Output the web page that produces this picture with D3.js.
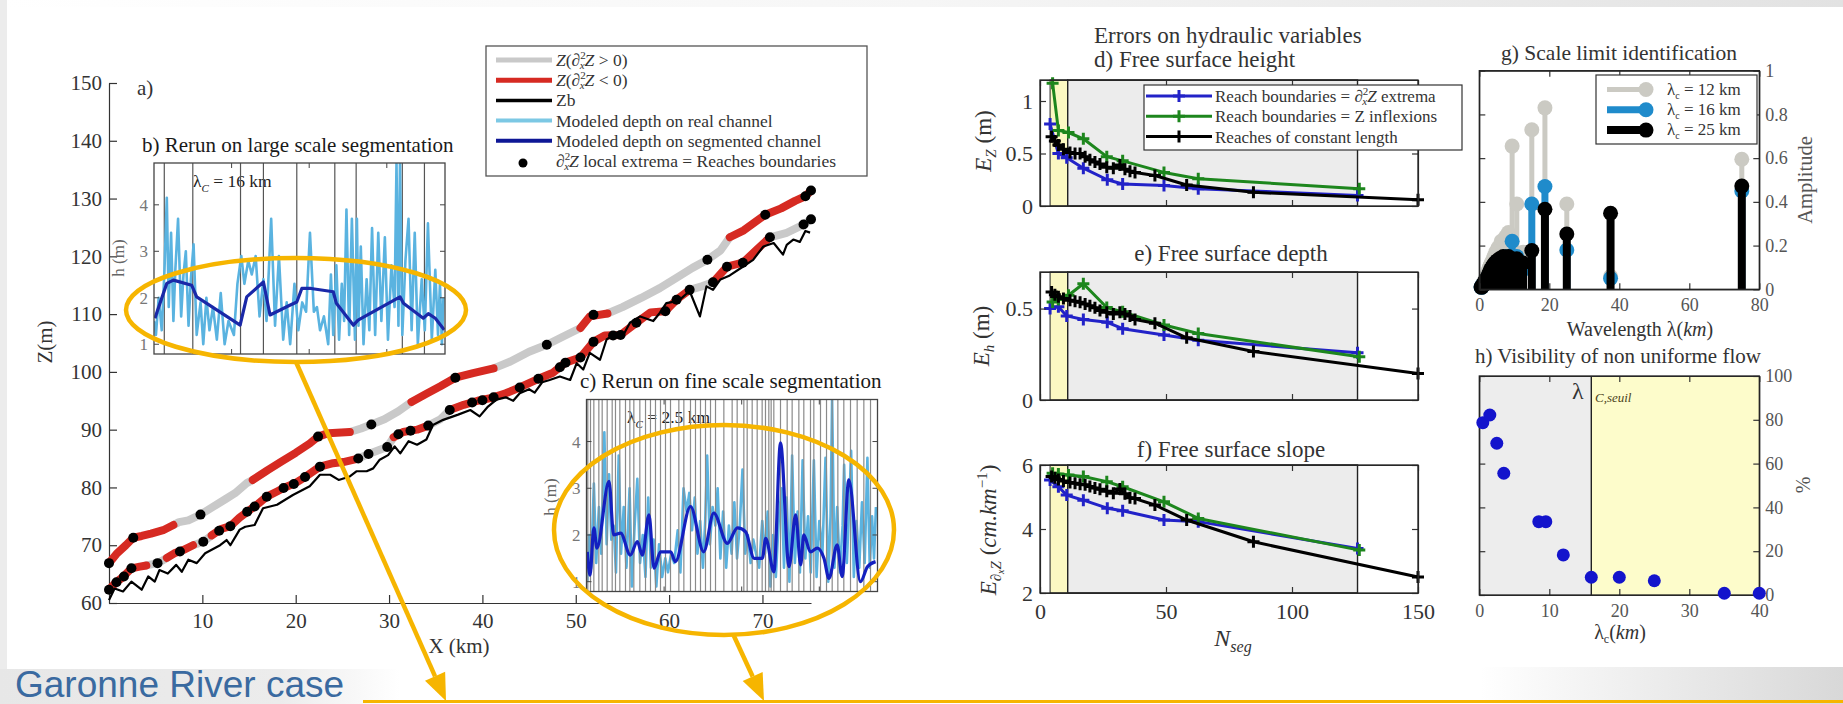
<!DOCTYPE html>
<html><head><meta charset="utf-8">
<script src="https://cdn.jsdelivr.net/npm/d3@7/dist/d3.min.js"></script>
<style>
html,body{margin:0;padding:0;background:#fff;}
svg{display:block;}
text{font-family:"Liberation Serif","Times New Roman",serif;}
</style></head><body>
<svg id="fig" width="1843" height="704"></svg>
<script>
// ---------- a) longitudinal profile of the Garonne reach ----------
const zTicks = [60, 70, 80, 90, 100, 110, 120, 130, 140, 150];
const xTicksA = [10, 20, 30, 40, 50, 60, 70];

// free surface line (upper) and its curvature colouring
const upperX = [0,0.8,1.8,2.6,3.5,4.5,5.8,6.9,7.5,8.5,9.8,11,12.5,13.5,14.8,15.4,17,18.5,20,21.5,22.4,23.5,25.8,27,28.1,29.5,31,32.4,34,35.5,37.1,39,41.2,43,45,46.9,48.5,50.5,51.5,53.4,55,57,59,61,62.5,64.1,65.5,66.5,68,70.3,72,73.5,74.6,75.2];
const upperZ = [66.9,68.5,70,71.3,71.6,72,72.6,73.5,74,74.3,75.3,76.5,78,79,80.8,81.3,83,84.5,86,87.6,88.8,89.4,89.6,90.2,90.9,91.8,93.2,94.8,96.2,97.5,99,99.8,100.6,101.8,103.5,104.7,106,107.6,109.6,110.1,111.2,112.8,114.5,116.5,118,119.4,121,123.3,124.5,127.2,128.3,129.6,130.4,131.4];
const upperConcave = [[0,6.9],[15.2,25.8],[32.4,41.2],[50.8,53.6],[66.3,75.2]];
const upperDotX = [0,2.6,9.8,22.4,28.1,37.1,46.9,51.9,64.1,70.3,74.6,75.2];
const upperDotZ = [66.9,71.3,75.3,88.8,90.9,99,104.7,109.9,119.4,127.2,130.4,131.4];

// modelled water line on the real channel (middle)
const midX = [0,0.7,1.5,2.4,3.3,4,5.2,6.2,7,8,9,10.1,11,12,13,14,15,16,16.9,18,18.7,20,21,22.6,24,25.1,26.7,27.8,29.8,30.5,31.5,33,34.2,35.5,36.5,38,39.5,41,42.5,44,46,47.5,48.9,50.5,51.9,53.1,54.8,56.5,58,59.6,60.8,62.2,63.5,64.7,66.2,67.9,69.3,70.8,72.5,74.4,75.2];
const midZ = [62.3,63.5,64.5,66,66.3,66.5,66.9,67.8,68.6,69.2,70,70.6,71.7,72.8,73.3,74.8,76,77.2,78.4,79.3,79.9,80.8,81.8,83.6,84.2,84.4,85,85.8,87,88.7,89.6,90,90.7,91.8,93.4,94.3,95,95.5,96.3,97.3,98.8,99.8,101.6,102.5,105.2,106.3,106.4,108.5,110.3,110.5,112.5,114.2,114.8,115.5,118.2,118.9,121,123.3,124,125.5,126.4];
const midConcave = [[0,4.2],[6.5,9.2],[10.8,22.3],[23.2,26.3],[27.3,28.6],[30.3,34.8],[36.3,62.3],[64.3,71.5]];
const midDotX = [0,0.8,1.6,2.4,5.2,7.6,10.1,11.8,13,14.8,15.6,16.9,18.7,19.8,21,22.6,26.7,27.8,29.8,31,32.3,34.2,36.5,38.9,40,41.2,44,46,48.3,48.9,50.5,51.9,54,54.8,56.5,59.6,60.8,62.2,64.7,66.2,67.9,70.8,74.4,75.2];
const midDotZ = [62.3,63.6,64.6,66,66.9,68.9,70.6,72.5,73.3,75.8,76.7,78.4,79.9,80.6,81.8,83.6,85,85.8,87,89.2,89.8,90.7,93.4,94.7,95.1,95.6,97.3,98.8,100.8,101.6,102.5,105.2,106.3,106.4,108.5,110.5,112.5,114.2,115.5,118.2,118.9,123.3,125.5,126.4];

// bed elevation Zb
const zbX = [0,0.6,1.5,2.4,3.5,4.2,4.9,5.4,6.3,7.2,7.8,8.5,9.4,10.3,11.9,12.6,13,14,14.6,15.6,16.5,18,19.7,21.5,22.6,23.7,24.6,25.8,26.5,27.6,28.3,29,29.9,30.6,31.2,32.1,33,34,34.7,35.8,37.4,38.7,39.7,40.6,41.5,42.5,43.3,44,45,45.6,46.4,47.2,48.3,49.4,50.1,50.8,51.5,52.6,53.3,54.4,55.1,55.8,56.9,58.3,59,59.7,61,62.2,63.3,64,64.7,65.5,66.5,67.9,69,70.1,71.2,72.2,72.6,73.3,74,74.6,75.1];
const zbZ = [60.5,62.5,62,63.7,62.3,64.6,63.7,65.7,65.1,66.6,65.4,67.5,66.9,68.6,70,70.9,70,72.7,73.2,73.5,76.4,77,78.7,80.2,82.2,82.2,81.3,81.9,82.8,82.8,83.3,84.8,85.6,87.1,85.9,88,87.4,88.3,90.8,91.7,92.6,93.4,92.3,94,95.2,95.6,95,96.3,97,96.4,98.2,98.6,99.2,98.6,101.5,100.4,103.3,102.1,105.6,106.8,106.4,108.5,109.6,108.8,110.2,111.9,112.3,114,109.6,114.8,114.2,116,116.7,118.2,119.4,121.7,122.3,120.3,122,122.9,122.5,124.4,124.1];

// ---------- insets b) and c): depth along the reach ----------
const insetXDomain = [0, 75];
const insetHDomain = [0.79, 4.9];
const hTicks = [1, 2, 3, 4];
const insetXTicks = [20, 40, 60];

const bRealX = [0,0.5,1.2,2,2.7,3.3,3.8,4.4,5.0,5.5,6.2,7.0,7.6,8.2,8.9,9.5,10.2,11.0,12.0,12.7,13.5,14.3,15.2,16.2,17.2,18.2,19.2,20.6,21.5,22.5,23.3,24.3,25.2,26.2,27.2,28.2,29.0,30.2,31.2,32.2,33.3,34.2,35.1,36.2,37.2,38.2,39.2,40.2,41.2,42.0,42.8,43.8,44.9,45.6,46.2,47.0,47.7,48.4,49.0,49.6,50.3,51.0,51.8,52.3,52.7,53.3,54.0,54.8,55.5,56.2,57.0,57.8,58.6,59.5,60.3,61.2,62.0,62.5,63.0,63.4,64.0,64.8,65.6,66.4,67.2,68.0,69.0,69.8,70.6,71.6,72.5,73.2,73.7,74.2,74.6];
const bRealH = [1.5,1.2,2.0,1.3,2.6,4.15,1.8,3.4,1.5,2.6,3.7,1.6,2.5,3.0,1.4,2.4,3.15,1.2,1.9,1.0,2.0,1.3,1.8,1.1,2.1,1.0,1.5,1.2,2.3,2.9,2.3,2.8,2.5,2.9,1.6,2.4,1.5,3.7,1.4,2.9,1.1,1.9,1.0,2.3,1.3,1.9,1.7,3.4,1.7,1.8,1.3,1.6,1.0,2.5,1.2,2.7,1.1,2.3,1.5,3.9,1.2,3.7,1.1,3.7,1.4,3.1,1.0,2.4,1.3,3.5,1.2,3.4,1.5,3.3,1.1,2.7,1.8,4.9,1.4,4.9,1.2,2.8,3.7,1.3,3.4,1.0,2.4,1.3,3.6,1.1,2.6,1.2,2.3,1.0,2.0];
const bSegX = [0.25,0.8,3.3,5,9.7,11,22.2,23.9,28.2,29.9,35,36.8,38.1,40.5,46.2,47,51.4,52.6,63.4,64.3,69.4,70.7,72.5,74.8];
const bSegH = [1.56,1.7,2.31,2.38,2.27,2.02,1.41,2.02,2.34,1.63,1.84,1.91,2.2,2.2,2.13,1.88,1.41,1.52,2.02,1.88,1.56,1.66,1.56,1.31];
const bBounds = [2.65,10,22.3,28.2,36.8,46.6,52.1,64,69.7];

const cRealX = [0.2,0.7,1.2,1.9,2.5,3.2,3.8,4.6,5.2,5.8,6.4,7.0,7.6,8.3,8.9,9.6,10.3,11.1,11.7,12.4,13.1,13.8,14.5,15.2,15.9,16.6,17.3,18.0,18.7,19.5,20.3,21.0,21.8,22.6,23.5,24.2,25.0,25.8,26.5,27.2,27.9,28.6,29.3,30.0,30.6,31.1,31.8,32.5,33.2,33.8,34.5,35.2,36.0,36.7,37.4,38.1,38.8,39.5,40.2,40.9,41.6,42.3,43.0,43.7,44.5,45.3,46.0,46.7,47.4,48.1,48.8,49.6,50.3,50.9,51.6,52.3,53.0,53.7,54.4,55.0,55.7,56.4,57.1,57.8,58.6,59.3,60.0,60.8,61.6,62.3,62.9,63.3,63.9,64.6,65.3,66.0,66.4,67.1,67.7,68.2,68.9,69.6,70.3,71.0,71.7,72.4,73.0,73.6,74.1,74.6];
const cRealH = [1.0,2.0,1.3,3.1,1.4,2.6,1.6,4.2,1.8,3.3,1.9,2.2,1.2,3.7,1.6,2.6,1.3,3.0,0.9,2.2,3.2,1.4,2.0,1.1,2.8,1.3,1.9,0.9,1.8,1.1,1.5,1.2,1.6,1.4,2.1,1.2,3.0,2.5,2.9,2.1,2.8,1.6,2.3,1.3,2.3,3.7,1.8,2.6,2.2,3.0,1.5,2.5,1.3,2.2,1.6,2.7,1.5,2.2,3.4,1.6,2.0,1.4,1.9,1.6,1.3,2.3,1.6,2.5,0.9,2.0,1.1,2.4,3.0,1.3,2.8,1.0,3.7,1.4,2.5,1.2,3.6,1.5,2.4,1.2,3.6,1.1,2.3,1.6,3.65,1.0,2.4,4.9,1.3,2.6,1.2,2.2,3.5,1.4,2.6,3.8,1.1,2.3,1.3,2.7,1.4,3.65,1.3,2.4,1.5,2.6];
const cSegX = [0.2,0.9,1.9,2.7,5.8,7.0,8.8,11.3,13.1,14.4,16.1,17.4,19.1,21.7,22.9,26.8,30.2,32.8,36.3,38.9,41.0,43.2,45.3,46.2,48.3,50.0,52.2,53.9,55.2,56.0,57.7,59.5,61.2,62.5,64.6,65.9,67.6,70.6,72.4,74.5];
const cSegH = [1.64,1.14,2.15,1.72,3.15,2.0,2.04,1.57,1.86,1.57,2.43,1.29,1.64,1.64,1.43,2.61,1.64,2.47,1.82,2.15,2.07,1.5,1.5,1.93,1.21,3.97,1.32,2.43,1.36,2.0,1.64,1.72,1.5,1.07,1.79,1.11,3.18,1.0,1.32,1.43];
const cBounds = [0.34,1.03,1.89,3.18,4.04,5.33,6.62,7.47,8.59,10.05,11.17,12.2,13.75,15.21,16.49,17.78,19.07,20.36,21.65,23.8,25.09,26.8,28.09,29.38,30.67,31.96,33.25,35.4,37.54,38.83,40.55,41.41,42.7,43.99,45.27,46.13,46.99,47.59,48.28,50.0,51.72,53.0,54.73,56.01,57.73,58.59,60.31,61.86,63.32,64.78,66.32,68.04,69.76,71.48,73.2];

// ---------- d) e) f): errors versus number of reaches ----------
const nTicks = [0, 50, 100, 150];
const yellowBand = [4, 11];
const grayBand = [11, 126];
const blueN = [4,7.3,10.6,17.2,26.7,32.8,49.2,62.8,126];
const blueEz = [0.78,0.50,0.46,0.36,0.25,0.21,0.195,0.165,0.10];
const blueEh = [0.50,0.51,0.46,0.44,0.425,0.39,0.355,0.327,0.258];
const blueEs = [5.53,5.32,5.06,4.90,4.65,4.57,4.28,4.23,3.39];
const greenN = [5,7.3,11.3,17.2,26.5,32.8,49.2,62.8,126.7];
const greenEz = [1.17,0.72,0.70,0.64,0.47,0.43,0.32,0.26,0.164];
const greenEh = [0.536,0.55,0.573,0.636,0.506,0.482,0.41,0.364,0.236];
const greenEs = [5.74,5.72,5.69,5.64,5.48,5.32,4.85,4.33,3.34];
const blackN = [4.6,5.9,7.3,9.3,11.9,13.9,15.9,17.9,19.8,21.8,23.8,26.5,29.1,31.7,33.7,35.7,37.7,45.6,58.2,84.7,150];
const blackEz = [0.66,0.62,0.58,0.54,0.51,0.50,0.50,0.47,0.44,0.42,0.40,0.37,0.36,0.39,0.35,0.33,0.32,0.29,0.20,0.13,0.06];
const blackEh = [0.59,0.575,0.565,0.555,0.545,0.54,0.535,0.525,0.515,0.505,0.49,0.48,0.47,0.48,0.47,0.46,0.44,0.42,0.34,0.265,0.145];
const blackEs = [5.64,5.6,5.55,5.5,5.45,5.43,5.4,5.38,5.33,5.28,5.24,5.18,5.12,5.25,5.1,4.98,4.95,4.75,4.28,3.6,2.5];

// ---------- g) spectrum ----------
const wavelength = [75,37.5,25,18.75,15,12.5,10.71,9.38,8.33,7.5,6.82,6.25,5.77,5.36,5.0,4.69,4.41,4.17,3.95,3.75,3.57,3.41,3.26,3.13,3.0,2.88,2.78,2.68,2.59,2.5,2.34,2.21,2.08,1.97,1.88,1.67,1.5,1.36,1.25,1.07,0.94,0.75,0.5];
const amp12 = [0.595,0.06,0.39,0.83,0.73,0.17,0.39,0.655,0.26,0.24,0.2,0.22,0.18,0.19,0.15,0.17,0.14,0.15,0.12,0.13,0.11,0.12,0.1,0.11,0.09,0.1,0.08,0.09,0.07,0.08,0.07,0.06,0.06,0.05,0.05,0.04,0.04,0.03,0.03,0.02,0.02,0.01,0.01];
const amp16 = [0.45,0.05,0.18,0.47,0.39,0.09,0.15,0.22,0.14,0.15,0.13,0.14,0.12,0.13,0.11,0.12,0.1,0.11,0.09,0.1,0.08,0.09,0.07,0.08,0.07,0.07,0.06,0.06,0.05,0.06,0.05,0.05,0.04,0.04,0.04,0.03,0.03,0.03,0.02,0.02,0.02,0.01,0.01];
const amp25 = [0.472,0.348,0.253,0.366,0.177,0.12,0.14,0.13,0.15,0.14,0.15,0.13,0.14,0.12,0.13,0.11,0.12,0.1,0.11,0.09,0.1,0.08,0.09,0.07,0.08,0.07,0.06,0.07,0.05,0.06,0.05,0.04,0.05,0.04,0.03,0.04,0.03,0.03,0.02,0.02,0.02,0.01,0.01];
const spectrumLabels = ["12", "16", "25"];
const waveTicks = [0, 20, 40, 60, 80];
const ampTicks = [0, 0.2, 0.4, 0.6, 0.8, 1];

// ---------- h) visibility ----------
const lambdaC = [0.5,1.5,2.5,3.5,8.5,9.5,12,16,20,25,35,40];
const visiblePct = [78.7,82.2,69.3,55.6,33.5,33.5,18.3,8.1,8.1,6.5,0.8,0.8];
const lambdaSeuil = 16;
const lamTicks = [0, 10, 20, 30, 40];
const pctTicks = [0, 20, 40, 60, 80, 100];

const SERIF = '"Liberation Serif","Times New Roman",serif';
const svg = d3.select("#fig");
const defs = svg.append("defs");

function hGrad(id, stops) {
  const lg = defs.append("linearGradient").attr("id", id).attr("x1", 0).attr("x2", 1).attr("y1", 0).attr("y2", 0);
  stops.forEach(s => lg.append("stop").attr("offset", s[0]).attr("stop-color", s[1]));
}
hGrad("gBL", [[0, "#e7e7e7"], [0.7, "#ececec"], [1, "#ffffff"]]);
hGrad("gBR", [[0, "#ffffff"], [1, "#d8d8d8"]]);
hGrad("gTop", [[0, "#ffffff"], [0.5, "#f6f6f6"], [1, "#e2e2e2"]]);

// slide frame
svg.append("rect").attr("width", 1843).attr("height", 704).attr("fill", "#fff");
svg.append("rect").attr("width", 1843).attr("height", 7).attr("fill", "url(#gTop)");
svg.append("rect").attr("width", 7).attr("height", 704).attr("fill", "#ececec");
svg.append("rect").attr("x", 0).attr("y", 669).attr("width", 400).attr("height", 35).attr("fill", "url(#gBL)");
svg.append("rect").attr("x", 1480).attr("y", 667).attr("width", 363).attr("height", 37).attr("fill", "url(#gBR)");

function rich(sel, runs) {
  runs.forEach(r => {
    const s = r[0], o = r[1] || {};
    const ts = sel.append("tspan").text(s);
    if (o.i) ts.attr("font-style", "italic");
    if (o.fs) ts.attr("font-size", o.fs);
    if (o.dx != null) ts.attr("dx", o.dx);
    if (o.dy != null) ts.attr("dy", o.dy);
  });
  return sel;
}
function styleAxis(a, fs, col) {
  a.attr("font-family", null).attr("font-size", null);
  a.selectAll("text").attr("font-size", fs).attr("fill", col).style("font-family", SERIF);
  a.selectAll("line,path").attr("stroke", "#333").attr("stroke-width", 1.2);
}
const zip = (a, b) => a.map((v, i) => [v, b[i]]);

// ================= panel a =================
const aX = d3.scaleLinear().domain([0, 75.2]).range([109, 811]);
const aY = d3.scaleLinear().domain([60, 150]).range([603, 83]);
const gA = svg.append("g");
styleAxis(gA.append("g").attr("transform", "translate(109,0)")
  .call(d3.axisLeft(aY).tickValues(zTicks).tickSize(-8).tickSizeOuter(0).tickPadding(7)), 21, "#333");
styleAxis(gA.append("g").attr("transform", "translate(0,603)")
  .call(d3.axisBottom(aX).tickValues(xTicksA).tickSize(-8).tickSizeOuter(0).tickPadding(10)), 21, "#333");
gA.append("text").attr("transform", "translate(52,342) rotate(-90)").attr("text-anchor", "middle")
  .attr("font-size", 21).attr("fill", "#333").text("Z(m)");
gA.append("text").attr("x", 459).attr("y", 653).attr("text-anchor", "middle")
  .attr("font-size", 21).attr("fill", "#333").text("X (km)");
gA.append("text").attr("x", 137).attr("y", 95).attr("font-size", 21).attr("fill", "#333").text("a)");

const aLine = d3.line().x(d => aX(d[0])).y(d => aY(d[1]));
function colourRuns(xs, zs, ranges) {
  const runs = [];
  for (let i = 0; i < xs.length - 1; i++) {
    const mid = (xs[i] + xs[i + 1]) / 2;
    const red = ranges.some(r => mid >= r[0] && mid <= r[1]);
    if (!runs.length || runs[runs.length - 1].red !== red) runs.push({ red, pts: [[xs[i], zs[i]]] });
    runs[runs.length - 1].pts.push([xs[i + 1], zs[i + 1]]);
  }
  return runs;
}
const RED = "#d62a22", LGRAY = "#c9c9c9";
[[upperX, upperZ, upperConcave], [midX, midZ, midConcave]].forEach(([xs, zs, rg]) => {
  const runs = colourRuns(xs, zs, rg);
  runs.filter(r => !r.red).forEach(r => gA.append("path").attr("d", aLine(r.pts)).attr("fill", "none")
    .attr("stroke", LGRAY).attr("stroke-width", 8).attr("stroke-linecap", "round").attr("stroke-linejoin", "round"));
  runs.filter(r => r.red).forEach(r => gA.append("path").attr("d", aLine(r.pts)).attr("fill", "none")
    .attr("stroke", RED).attr("stroke-width", 8).attr("stroke-linecap", "round").attr("stroke-linejoin", "round"));
});
gA.append("path").attr("d", aLine(zip(zbX, zbZ))).attr("fill", "none").attr("stroke", "#000")
  .attr("stroke-width", 2.2).attr("stroke-linejoin", "round");
[[upperDotX, upperDotZ], [midDotX, midDotZ]].forEach(([xs, zs]) => {
  gA.selectAll(null).data(zip(xs, zs)).enter().append("circle")
    .attr("cx", d => aX(d[0])).attr("cy", d => aY(d[1])).attr("r", 5).attr("fill", "#000");
});

// legend a
const legA = svg.append("g");
legA.append("rect").attr("x", 486).attr("y", 46).attr("width", 381).attr("height", 130)
  .attr("fill", "#fff").attr("stroke", "#555").attr("stroke-width", 1.3);
const legRowsA = [
  { c: LGRAY, w: 5, runs: [["Z", { i: 1 }], ["(∂"], ["2", { fs: 11, dy: -7 }], ["x", { fs: 11, i: 1, dx: -6, dy: 10 }], ["Z", { i: 1, dy: -3 }], [" > 0)"]] },
  { c: RED, w: 5, runs: [["Z", { i: 1 }], ["(∂"], ["2", { fs: 11, dy: -7 }], ["x", { fs: 11, i: 1, dx: -6, dy: 10 }], ["Z", { i: 1, dy: -3 }], [" < 0)"]] },
  { c: "#000", w: 3.5, runs: [["Zb"]] },
  { c: "#7cc8e4", w: 4, runs: [["Modeled depth on real channel"]] },
  { c: "#0e1796", w: 4, runs: [["Modeled depth on segmented channel"]] },
  { dot: true, runs: [["∂"], ["2", { fs: 11, dy: -7 }], ["x", { fs: 11, i: 1, dx: -6, dy: 10 }], ["Z", { i: 1, dy: -3 }], [" local extrema = Reaches boundaries"]] }
];
legRowsA.forEach((r, i) => {
  const y = 60 + i * 20.2;
  if (r.dot) legA.append("circle").attr("cx", 523).attr("cy", y + 2).attr("r", 4.5).attr("fill", "#000");
  else legA.append("line").attr("x1", 496).attr("x2", 552).attr("y1", y).attr("y2", y)
    .attr("stroke", r.c).attr("stroke-width", r.w);
  rich(legA.append("text").attr("x", 556).attr("y", y + 6).attr("font-size", 17.5).attr("fill", "#333"), r.runs);
});

// ================= insets b and c =================
let clipN = 0;
function drawInset(o) {
  const x = d3.scaleLinear().domain(insetXDomain).range([o.left, o.left + o.width]);
  const y = d3.scaleLinear().domain(insetHDomain).range([o.top + o.height, o.top]);
  const g = svg.append("g");
  const id = "clipInset" + (clipN++);
  defs.append("clipPath").attr("id", id).append("rect")
    .attr("x", o.left).attr("y", o.top).attr("width", o.width).attr("height", o.height);
  g.append("rect").attr("x", o.left).attr("y", o.top).attr("width", o.width).attr("height", o.height).attr("fill", "#fff");
  g.append("text").attr("x", o.titleX).attr("y", o.titleY).attr("font-size", 21).attr("fill", "#1a1a1a").text(o.title);
  rich(g.append("text").attr("x", o.lamX).attr("y", o.lamY).attr("font-size", 17.5).attr("fill", "#222"),
    [["λ"], ["C", { i: 1, fs: 11, dy: 5 }], [" =  " + o.lam + " km", { dy: -5 }]]);
  const body = g.append("g").attr("clip-path", "url(#" + id + ")");
  const drawBounds = () => body.selectAll(null).data(o.bounds).enter().append("line")
    .attr("x1", d => x(d)).attr("x2", d => x(d)).attr("y1", o.top).attr("y2", o.top + o.height)
    .attr("stroke", o.boundColor).attr("stroke-width", 1.2);
  const ln = d3.line().x(d => x(d[0])).y(d => y(d[1]));
  if (!o.boundsOnTop) drawBounds();
  body.append("path").attr("d", ln(zip(o.realX, o.realH))).attr("fill", "none")
    .attr("stroke", "#5ab3e0").attr("stroke-width", 2.6).attr("stroke-linejoin", "round");
  if (o.boundsOnTop) drawBounds();
  body.append("path").attr("d", ln.curve(o.curve)(zip(o.segX, o.segH))).attr("fill", "none")
    .attr("stroke", o.segColor).attr("stroke-width", 3.2).attr("stroke-linejoin", "round");
  // ticks on all sides, pointing inward
  const tk = g.append("g").attr("stroke", "#444").attr("stroke-width", 1);
  hTicks.forEach(v => {
    tk.append("line").attr("x1", o.left).attr("x2", o.left + 5).attr("y1", y(v)).attr("y2", y(v));
    tk.append("line").attr("x1", o.left + o.width - 5).attr("x2", o.left + o.width).attr("y1", y(v)).attr("y2", y(v));
  });
  insetXTicks.forEach(v => {
    tk.append("line").attr("x1", x(v)).attr("x2", x(v)).attr("y1", o.top).attr("y2", o.top + 5);
    tk.append("line").attr("x1", x(v)).attr("x2", x(v)).attr("y1", o.top + o.height - 5).attr("y2", o.top + o.height);
  });
  g.append("rect").attr("x", o.left).attr("y", o.top).attr("width", o.width).attr("height", o.height)
    .attr("fill", "none").attr("stroke", "#444").attr("stroke-width", 1.3);
  g.selectAll(null).data(hTicks).enter().append("text")
    .attr("x", o.left - 6).attr("y", d => y(d) + 6).attr("text-anchor", "end")
    .attr("font-size", 17).attr("fill", "#777").text(d => d);
  g.append("text").attr("transform", `translate(${o.ylabX},${o.ylabY}) rotate(-90)`).attr("text-anchor", "middle")
    .attr("font-size", 17).attr("fill", "#666").text("h (m)");
}
drawInset({ left: 154, top: 163, width: 291, height: 191, title: "b) Rerun on large scale segmentation",
  titleX: 142, titleY: 152, lam: "16", lamX: 193, lamY: 187, realX: bRealX, realH: bRealH,
  segX: bSegX, segH: bSegH, bounds: bBounds, boundColor: "#555", boundsOnTop: false,
  curve: d3.curveLinear, segColor: "#1a28a8", ylabX: 124, ylabY: 258 });
drawInset({ left: 586.5, top: 399.5, width: 291, height: 192, title: "c) Rerun on fine scale segmentation",
  titleX: 580, titleY: 388, lam: "2.5", lamX: 627, lamY: 423, realX: cRealX, realH: cRealH,
  segX: cSegX, segH: cSegH, bounds: cBounds, boundColor: "#8a8a8a", boundsOnTop: true,
  curve: d3.curveMonotoneX, segColor: "#1420c0", ylabX: 556, ylabY: 497 });

// ================= panels d, e, f =================
const nX = d3.scaleLinear().domain([0, 150]).range([1040, 1418]);
const plusPath = "M-6,0H6M0,-6V6";
const errSeries = [
  { c: "#2222c8", n: blueN, v: [blueEz, blueEh, blueEs] },
  { c: "#1d861d", n: greenN, v: [greenEz, greenEh, greenEs] },
  { c: "#000000", n: blackN, v: [blackEz, blackEh, blackEs] }
];
function errPanel(p) {
  const y = d3.scaleLinear().domain(p.yDom).range([p.bottom, p.top]);
  const g = svg.append("g");
  g.append("rect").attr("x", nX(yellowBand[0])).attr("y", p.top).attr("width", nX(yellowBand[1]) - nX(yellowBand[0]))
    .attr("height", p.bottom - p.top).attr("fill", "#fbf8c2").attr("stroke", "#222").attr("stroke-width", 1);
  g.append("rect").attr("x", nX(grayBand[0])).attr("y", p.top).attr("width", nX(grayBand[1]) - nX(grayBand[0]))
    .attr("height", p.bottom - p.top).attr("fill", "#ececec").attr("stroke", "#222").attr("stroke-width", 1.4);
  const ln = d3.line().x(d => nX(d[0])).y(d => y(d[1]));
  errSeries.forEach(s => {
    const pts = zip(s.n, s.v[p.idx]);
    g.append("path").attr("d", ln(pts)).attr("fill", "none").attr("stroke", s.c).attr("stroke-width", 3)
      .attr("stroke-linejoin", "round");
    g.selectAll(null).data(pts).enter().append("path")
      .attr("transform", d => `translate(${nX(d[0])},${y(d[1])})`).attr("d", plusPath)
      .attr("stroke", s.c).attr("stroke-width", 3).attr("fill", "none");
  });
  const left = g.append("g").attr("transform", "translate(1040,0)")
    .call(d3.axisLeft(y).tickValues(p.ticks).tickSize(-6).tickSizeOuter(0).tickPadding(7).tickFormat(d3.format("~g")));
  styleAxis(left, 22, "#333");
  g.append("g").attr("transform", "translate(1418,0)")
    .call(d3.axisRight(y).tickValues(p.ticks).tickSize(-6).tickSizeOuter(0).tickFormat(""))
    .call(a => styleAxis(a, 22, "#333"));
  g.append("g").attr("transform", `translate(0,${p.top})`)
    .call(d3.axisTop(nX).tickValues(nTicks).tickSize(-6).tickSizeOuter(0).tickFormat(""))
    .call(a => styleAxis(a, 22, "#333"));
  const bot = g.append("g").attr("transform", `translate(0,${p.bottom})`)
    .call(d3.axisBottom(nX).tickValues(nTicks).tickSize(-6).tickSizeOuter(0).tickPadding(10)
      .tickFormat(p.xLabels ? d3.format("d") : ""));
  styleAxis(bot, 22, "#333");
  g.append("rect").attr("x", 1040).attr("y", p.top).attr("width", 378).attr("height", p.bottom - p.top)
    .attr("fill", "none").attr("stroke", "#222").attr("stroke-width", 1.3);
  return g;
}
errPanel({ idx: 0, top: 80, bottom: 206, yDom: [0, 1.2], ticks: [0, 0.5, 1] });
errPanel({ idx: 1, top: 272, bottom: 400, yDom: [0, 0.7], ticks: [0, 0.5] });
errPanel({ idx: 2, top: 465, bottom: 593, yDom: [2, 6], ticks: [2, 4, 6], xLabels: true });

svg.append("text").attr("x", 1094).attr("y", 43).attr("font-size", 23).attr("fill", "#333").text("Errors on hydraulic variables");
svg.append("text").attr("x", 1094).attr("y", 67).attr("font-size", 23).attr("fill", "#333").text("d) Free surface height");
svg.append("text").attr("x", 1231).attr("y", 261).attr("text-anchor", "middle").attr("font-size", 23).attr("fill", "#333").text("e) Free surface depth");
svg.append("text").attr("x", 1231).attr("y", 457).attr("text-anchor", "middle").attr("font-size", 23).attr("fill", "#333").text("f) Free surface slope");
rich(svg.append("text").attr("transform", "translate(991,141) rotate(-90)").attr("text-anchor", "middle").attr("font-size", 23).attr("fill", "#333"),
  [["E", { i: 1 }], ["Z", { i: 1, fs: 15, dy: 5 }], [" (m)", { dy: -5 }]]);
rich(svg.append("text").attr("transform", "translate(989,336) rotate(-90)").attr("text-anchor", "middle").attr("font-size", 23).attr("fill", "#333"),
  [["E", { i: 1 }], ["h", { i: 1, fs: 15, dy: 5 }], [" (m)", { dy: -5 }]]);
rich(svg.append("text").attr("transform", "translate(996,530) rotate(-90)").attr("text-anchor", "middle").attr("font-size", 23).attr("fill", "#333"),
  [["E", { i: 1 }], ["∂", { fs: 15, dy: 5 }], ["x", { i: 1, fs: 10, dy: 3 }], ["Z", { i: 1, fs: 15, dy: -3 }], ["  (", { dy: -5 }], ["cm.km", { i: 1 }], ["−1", { fs: 15, dy: -9 }], [")", { dy: 9 }]]);
rich(svg.append("text").attr("x", 1233).attr("y", 646).attr("text-anchor", "middle").attr("font-size", 24).attr("fill", "#333"),
  [["N", { i: 1 }], ["seg", { i: 1, fs: 16, dy: 6 }]]);

// legend d
const legD = svg.append("g");
legD.append("rect").attr("x", 1144).attr("y", 85).attr("width", 318).attr("height", 65)
  .attr("fill", "#fff").attr("stroke", "#333").attr("stroke-width", 1.2);
const legRowsD = [
  [["Reach boundaries = ∂"], ["2", { fs: 11, dy: -7 }], ["x", { fs: 11, i: 1, dx: -6, dy: 10 }], ["Z", { i: 1, dy: -3 }], [" extrema"]],
  [["Reach boundaries = Z inflexions"]],
  [["Reaches of constant length"]]
];
legRowsD.forEach((runs, i) => {
  const yy = 96 + i * 20.3, c = errSeries[i].c;
  legD.append("line").attr("x1", 1146).attr("x2", 1212).attr("y1", yy).attr("y2", yy).attr("stroke", c).attr("stroke-width", 3);
  legD.append("path").attr("transform", `translate(1179,${yy})`).attr("d", plusPath).attr("stroke", c).attr("stroke-width", 3);
  rich(legD.append("text").attr("x", 1215).attr("y", yy + 6).attr("font-size", 17).attr("fill", "#333"), runs);
});

// ================= panel g =================
const gX = d3.scaleLinear().domain([0, 80]).range([1479.3, 1759.3]);
const gY = d3.scaleLinear().domain([0, 1]).range([289.3, 70.7]);
function boxAxes(g, x, y, xt, yt, yfmt, xfmt) {
  const [x0, x1] = x.range(), [y0, y1] = y.range();
  styleAxis(g.append("g").attr("transform", `translate(0,${y0})`)
    .call(d3.axisBottom(x).tickValues(xt).tickSize(-6).tickSizeOuter(0).tickPadding(9).tickFormat(xfmt)), 18, "#555");
  styleAxis(g.append("g").attr("transform", `translate(0,${y1})`)
    .call(d3.axisTop(x).tickValues(xt).tickSize(-6).tickSizeOuter(0).tickFormat("")), 18, "#555");
  styleAxis(g.append("g").attr("transform", `translate(${x0},0)`)
    .call(d3.axisLeft(y).tickValues(yt).tickSize(-6).tickSizeOuter(0).tickFormat("")), 18, "#555");
  styleAxis(g.append("g").attr("transform", `translate(${x1},0)`)
    .call(d3.axisRight(y).tickValues(yt).tickSize(-6).tickSizeOuter(0).tickPadding(6).tickFormat(yfmt)), 18, "#555");
  g.append("rect").attr("x", x0).attr("y", y1).attr("width", x1 - x0).attr("height", y0 - y1)
    .attr("fill", "none").attr("stroke", "#222").attr("stroke-width", 1.3);
}
const gG = svg.append("g");
const stemSets = [
  { a: amp12, c: "#cbcac3", w: 5 },
  { a: amp16, c: "#1f8bcb", w: 7 },
  { a: amp25, c: "#000000", w: 8 }
];
stemSets.forEach(s => {
  const pts = zip(wavelength, s.a);
  gG.selectAll(null).data(pts).enter().append("line")
    .attr("x1", d => gX(d[0])).attr("x2", d => gX(d[0])).attr("y1", gY(0)).attr("y2", d => gY(d[1]))
    .attr("stroke", s.c).attr("stroke-width", s.w);
  gG.selectAll(null).data(pts).enter().append("circle")
    .attr("cx", d => gX(d[0])).attr("cy", d => gY(d[1])).attr("r", 7.5).attr("fill", s.c);
});
boxAxes(gG, gX, gY, waveTicks, ampTicks, d3.format("~g"), d3.format("d"));
const legG = svg.append("g");
legG.append("rect").attr("x", 1596).attr("y", 75).attr("width", 161).attr("height", 69)
  .attr("fill", "#fff").attr("stroke", "#333").attr("stroke-width", 1.2);
stemSets.forEach((s, i) => {
  const yy = 89.5 + i * 20.3;
  legG.append("line").attr("x1", 1607).attr("x2", 1646).attr("y1", yy).attr("y2", yy).attr("stroke", s.c).attr("stroke-width", s.w);
  legG.append("circle").attr("cx", 1646).attr("cy", yy).attr("r", 7.5).attr("fill", s.c);
  rich(legG.append("text").attr("x", 1667).attr("y", yy + 5).attr("font-size", 17).attr("fill", "#333"),
    [["λ"], ["c", { fs: 10, dy: 4 }], [" = " + spectrumLabels[i] + " km", { dy: -4 }]]);
});
svg.append("text").attr("x", 1619).attr("y", 60).attr("text-anchor", "middle").attr("font-size", 21.5).attr("fill", "#333").text("g) Scale limit identification");
rich(svg.append("text").attr("x", 1640).attr("y", 336).attr("text-anchor", "middle").attr("font-size", 20).attr("fill", "#333"),
  [["Wavelength  λ("], ["km", { i: 1 }], [")"]]);
svg.append("text").attr("transform", "translate(1812,180) rotate(-90)").attr("text-anchor", "middle")
  .attr("font-size", 20.5).attr("fill", "#555").text("Amplitude");

// ================= panel h =================
const hX = d3.scaleLinear().domain([0, 40]).range([1479.3, 1759.3]);
const hY = d3.scaleLinear().domain([0, 100]).range([595, 376]);
const gH = svg.append("g");
gH.append("rect").attr("x", hX(0)).attr("y", 376).attr("width", hX(lambdaSeuil) - hX(0)).attr("height", 219).attr("fill", "#ededed");
gH.append("rect").attr("x", hX(lambdaSeuil)).attr("y", 376).attr("width", hX(40) - hX(lambdaSeuil)).attr("height", 219).attr("fill", "#fdfccb");
gH.append("line").attr("x1", hX(lambdaSeuil)).attr("x2", hX(lambdaSeuil)).attr("y1", 376).attr("y2", 595).attr("stroke", "#222").attr("stroke-width", 1.4);
boxAxes(gH, hX, hY, lamTicks, pctTicks, d3.format("d"), d3.format("d"));
gH.selectAll(null).data(zip(lambdaC, visiblePct)).enter().append("circle")
  .attr("cx", d => hX(d[0])).attr("cy", d => hY(d[1])).attr("r", 6.5).attr("fill", "#1414cc");
gH.append("text").attr("x", 1572).attr("y", 399).attr("font-size", 24).attr("fill", "#333").text("λ");
gH.append("text").attr("x", 1595).attr("y", 402).attr("font-size", 13).attr("font-style", "italic").attr("fill", "#4a4320").text("C,seuil");
svg.append("text").attr("x", 1475).attr("y", 363).attr("font-size", 21).attr("fill", "#333").text("h) Visibility of non uniforme flow");
rich(svg.append("text").attr("x", 1620).attr("y", 639).attr("text-anchor", "middle").attr("font-size", 20).attr("fill", "#333"),
  [["λ"], ["c", { fs: 12, dy: 4 }], ["(", { dy: -4 }], ["km", { i: 1 }], [")"]]);
svg.append("text").attr("transform", "translate(1810,485) rotate(-90)").attr("text-anchor", "middle")
  .attr("font-size", 20).attr("fill", "#555").text("%");

// ================= callouts =================
const GOLD = "#f6b500";
const call = svg.append("g");
call.append("ellipse").attr("cx", 296).attr("cy", 310).attr("rx", 170).attr("ry", 52)
  .attr("fill", "none").attr("stroke", GOLD).attr("stroke-width", 4.5);
call.append("ellipse").attr("cx", 724).attr("cy", 530).attr("rx", 170).attr("ry", 105)
  .attr("fill", "none").attr("stroke", GOLD).attr("stroke-width", 4.5);
function arrow(x1, y1, x2, y2) {
  const L = Math.hypot(x2 - x1, y2 - y1), ux = (x2 - x1) / L, uy = (y2 - y1) / L;
  const hl = 27, hw = 11, bx = x2 - ux * hl, by = y2 - uy * hl;
  call.append("line").attr("x1", x1).attr("y1", y1).attr("x2", bx).attr("y2", by).attr("stroke", GOLD).attr("stroke-width", 4.5);
  call.append("path").attr("d", `M${x2},${y2}L${bx - uy * hw},${by + ux * hw}L${bx + uy * hw},${by - ux * hw}Z`).attr("fill", GOLD);
}
arrow(296, 362, 446, 701);
arrow(733, 634, 764, 701);
call.append("line").attr("x1", 363).attr("x2", 1843).attr("y1", 701.5).attr("y2", 701.5).attr("stroke", GOLD).attr("stroke-width", 3);
svg.append("text").attr("x", 15).attr("y", 697).attr("font-size", 37).attr("fill", "#3a6aa0")
  .style("font-family", '"Liberation Sans", Arial, sans-serif').text("Garonne River case");
</script></body></html>
